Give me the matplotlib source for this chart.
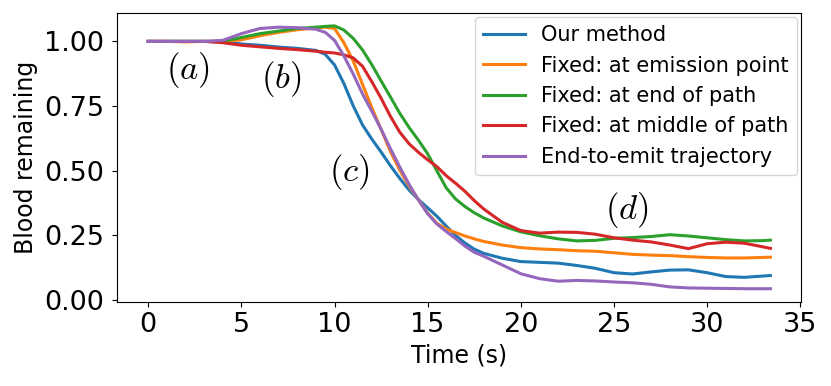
import matplotlib
matplotlib.use("Agg")
import matplotlib.pyplot as plt

plt.rcParams['mathtext.fontset'] = 'cm'

# time samples (s)
t = [0, 1, 2, 3, 4, 5, 6, 7, 8, 9, 9.5, 10, 10.5, 11, 11.5, 12, 12.5, 13, 13.5,
     14, 14.5, 15, 15.5, 16, 16.5, 17, 17.5, 18, 19, 20, 21, 22, 23, 24, 25, 26,
     27, 28, 29, 30, 31, 32, 33, 33.4]

# blood remaining for each method
our_method = [1.0, 1.0, 1.0, 1.0, 0.998, 0.99, 0.985, 0.978, 0.973, 0.965, 0.95, 0.909,
              0.837, 0.751, 0.677, 0.622, 0.572, 0.519, 0.47, 0.425, 0.388, 0.356, 0.323,
              0.285, 0.249, 0.22, 0.196, 0.18, 0.161, 0.148, 0.145, 0.142, 0.133, 0.122,
              0.105, 0.1, 0.108, 0.115, 0.116, 0.105, 0.09, 0.087, 0.092, 0.094]
fixed_emission = [1.0, 1.0, 0.998, 1.0, 1.0, 1.006, 1.022, 1.035, 1.045, 1.052, 1.055, 1.05,
                  0.995, 0.925, 0.834, 0.744, 0.659, 0.574, 0.502, 0.44, 0.388, 0.335, 0.296,
                  0.274, 0.26, 0.247, 0.236, 0.226, 0.212, 0.202, 0.197, 0.194, 0.19, 0.188,
                  0.182, 0.176, 0.173, 0.171, 0.167, 0.164, 0.162, 0.162, 0.164, 0.165]
fixed_end = [1.0, 1.0, 1.0, 1.0, 1.0, 1.015, 1.03, 1.04, 1.05, 1.055, 1.058, 1.06,
             1.044, 1.012, 0.967, 0.91, 0.847, 0.785, 0.722, 0.667, 0.618, 0.565, 0.498,
             0.433, 0.39, 0.361, 0.337, 0.317, 0.286, 0.263, 0.248, 0.236, 0.228, 0.23,
             0.238, 0.241, 0.245, 0.252, 0.247, 0.24, 0.233, 0.228, 0.229, 0.231]
fixed_middle = [1.0, 1.0, 1.0, 1.0, 0.995, 0.985, 0.979, 0.973, 0.968, 0.962, 0.958, 0.955,
                0.948, 0.936, 0.904, 0.844, 0.78, 0.71, 0.649, 0.604, 0.571, 0.542, 0.515,
                0.48, 0.451, 0.42, 0.384, 0.352, 0.3, 0.268, 0.258, 0.262, 0.261, 0.254,
                0.24, 0.231, 0.224, 0.212, 0.198, 0.217, 0.223, 0.219, 0.205, 0.199]
end_to_emit = [1.0, 1.0, 1.0, 1.0, 1.004, 1.03, 1.05, 1.055, 1.053, 1.047, 1.035, 1.004,
               0.944, 0.874, 0.797, 0.73, 0.66, 0.585, 0.514, 0.447, 0.387, 0.333, 0.293,
               0.264, 0.237, 0.208, 0.184, 0.169, 0.135, 0.101, 0.082, 0.072, 0.075, 0.073,
               0.069, 0.066, 0.06, 0.05, 0.046, 0.045, 0.044, 0.043, 0.043, 0.043]

labels = ['Our method', 'Fixed: at emission point', 'Fixed: at end of path',
          'Fixed: at middle of path', 'End-to-emit trajectory']

# stage annotations
stage_text = [r'$(a)$', r'$(b)$', r'$(c)$', r'$(d)$']
stage_x = [2.15, 7.15, 10.8, 25.7]
stage_y = [0.891, 0.853, 0.496, 0.349]

fig, ax = plt.subplots(figsize=(8.31, 3.86), dpi=100)
fig.subplots_adjust(left=0.141, right=0.9645, bottom=0.218, top=0.967)

for series, label in zip([our_method, fixed_emission, fixed_end, fixed_middle, end_to_emit], labels):
    ax.plot(t, series, lw=2.2, label=label)

for s, x, y in zip(stage_text, stage_x, stage_y):
    ax.text(x, y, s, fontsize=25, ha='center', va='center')

ax.set_xlabel('Time (s)', fontsize=17)
ax.set_ylabel('Blood remaining', fontsize=17)
ax.tick_params(labelsize=19.5)
ax.tick_params(axis='y', pad=6)
ax.set_xticks([0, 5, 10, 15, 20, 25, 30, 35])
ax.set_yticks([0.0, 0.25, 0.5, 0.75, 1.0])
ax.legend(loc='upper right', fontsize=15, borderaxespad=0.2)

plt.savefig('out.png', dpi=100)
